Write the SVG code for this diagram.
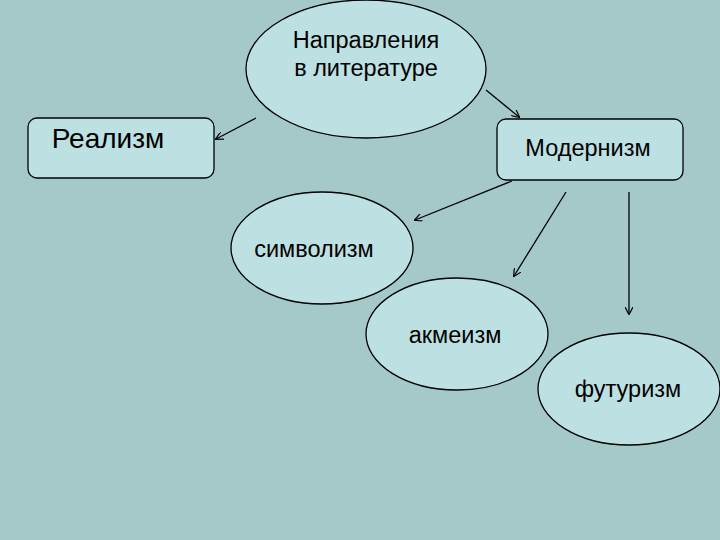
<svg xmlns="http://www.w3.org/2000/svg" width="720" height="540" viewBox="0 0 720 540">
<style>
.n{fill:#bde0e2;stroke:#000;stroke-width:1.3}
.t{font-family:"Liberation Sans",Arial,sans-serif;font-size:23.5px;fill:#000;text-anchor:middle}
.c line{stroke:#000;stroke-width:1.3;marker-end:url(#a)}
</style>
<defs>
<marker id="a" viewBox="0 0 10 10" refX="9" refY="5" markerWidth="8" markerHeight="8" markerUnits="userSpaceOnUse" orient="auto">
<path d="M0,0 L10,5 L0,10" fill="none" stroke="#000" stroke-width="1.5"/>
</marker>
</defs>
<rect width="720" height="540" fill="#a5c8c8"/>
<g class="c">
<line x1="256" y1="118" x2="216" y2="139"/>
<line x1="486" y1="90" x2="519" y2="117"/>
<line x1="512" y1="181" x2="415" y2="220"/>
<line x1="566" y1="192" x2="514" y2="276"/>
<line x1="629" y1="192" x2="629" y2="314"/>
</g>
<g id="root"><ellipse class="n" cx="366" cy="69" rx="120" ry="69"/><text class="t" x="366" y="48">Направления</text><text class="t" x="366" y="76">в литературе</text></g>
<g id="realism"><rect class="n" x="28" y="118" width="186" height="60" rx="9"/><text class="t" x="108" y="148" style="font-size:28px">Реализм</text></g>
<g id="modernism"><rect class="n" x="497" y="119" width="186" height="61" rx="9"/><text class="t" x="588" y="156">Модернизм</text></g>
<g id="symbolism"><ellipse class="n" cx="322" cy="248" rx="91" ry="56"/><text class="t" x="314" y="257">символизм</text></g>
<g id="acmeism"><ellipse class="n" cx="457" cy="334" rx="91" ry="56"/><text class="t" x="455" y="343">акмеизм</text></g>
<g id="futurism"><ellipse class="n" cx="629" cy="389" rx="91" ry="56"/><text class="t" x="628" y="397">футуризм</text></g>
</svg>
